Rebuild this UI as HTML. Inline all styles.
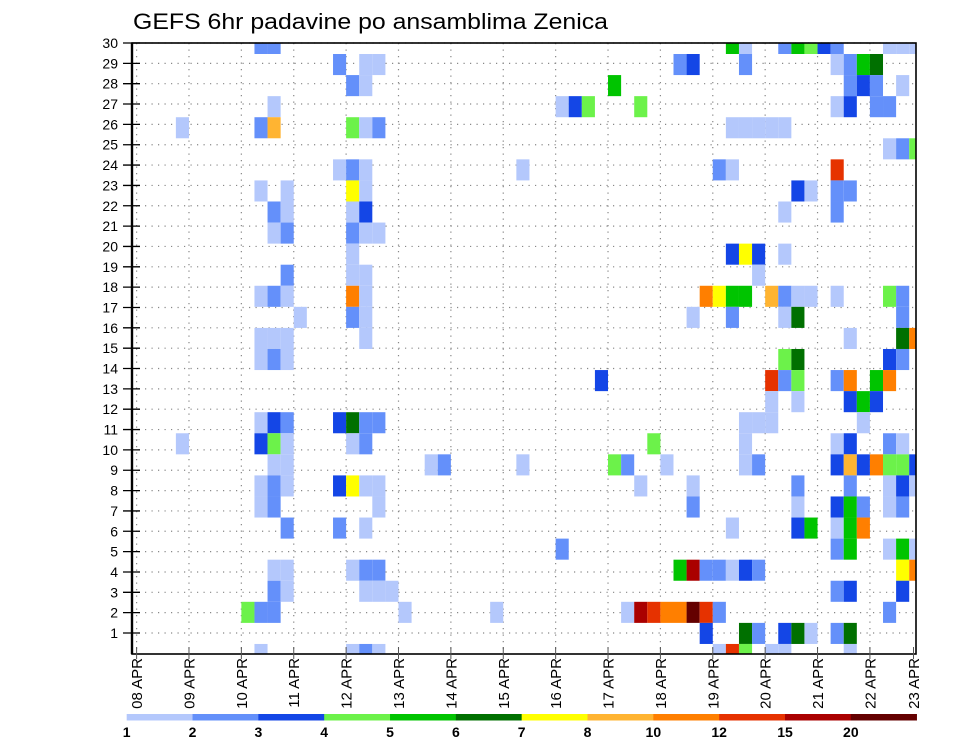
<!DOCTYPE html>
<html><head><meta charset="utf-8"><style>
html,body{margin:0;padding:0;background:#fff;}
svg{display:block;font-family:"Liberation Sans",sans-serif;}
</style></head><body>
<svg id="chart" width="960" height="742" viewBox="0 0 960 742" xmlns="http://www.w3.org/2000/svg">
<text x="133" y="29" font-size="22" textLength="475" lengthAdjust="spacingAndGlyphs" fill="#000">GEFS 6hr padavine po ansamblima Zenica</text>
<g id="grid"></g>
<g id="cells"></g>
<g id="axes"></g>
<g id="legend"></g>
</svg>
<script>
// ---- data ----
const dayLabels = ["08 APR","09 APR","10 APR","11 APR","12 APR","13 APR","14 APR","15 APR","16 APR","17 APR","18 APR","19 APR","20 APR","21 APR","22 APR","23 APR"];
const memberTicks = [1,2,3,4,5,6,7,8,9,10,11,12,13,14,15,16,17,18,19,20,21,22,23,24,25,26,27,28,29,30];
const legendLabels = ["1","2","3","4","5","6","7","8","10","12","15","20"];
const levelColors = ["#b4c8fc","#6490fa","#1446e6","#6cf24a","#00c400","#007000","#ffff00","#ffb432","#ff7f00","#e63200","#aa0000","#640000"];
// rowCells[band] = [ [6hr step index, color level 1..12], ... ]  band 0 = top row
const rowCells = [
 [[9,2],[10,2],[45,5],[46,1],[49,2],[50,5],[51,4],[52,3],[53,2],[57,1],[58,1],[59,1]],
 [[15,2],[17,1],[18,1],[41,2],[42,3],[46,2],[53,1],[54,2],[55,5],[56,6]],
 [[16,2],[17,1],[36,5],[54,2],[55,3],[56,2],[58,1]],
 [[10,1],[32,1],[33,3],[34,4],[38,4],[53,1],[54,3],[56,2],[57,2]],
 [[3,1],[9,2],[10,8],[16,4],[17,1],[18,2],[45,1],[46,1],[47,1],[48,1],[49,1]],
 [[57,1],[58,2],[59,4]],
 [[15,1],[16,2],[17,1],[29,1],[44,2],[45,1],[53,10]],
 [[9,1],[11,1],[16,7],[17,1],[50,3],[51,1],[53,2],[54,2]],
 [[10,2],[11,1],[16,1],[17,3],[49,1],[53,2]],
 [[10,1],[11,2],[16,2],[17,1],[18,1]],
 [[16,1],[45,3],[46,7],[47,3],[49,1]],
 [[11,2],[16,1],[17,1],[47,1]],
 [[9,1],[10,2],[11,1],[16,9],[17,1],[43,9],[44,7],[45,5],[46,5],[48,8],[49,2],[50,1],[51,1],[53,1],[57,4],[58,2]],
 [[12,1],[16,2],[17,1],[42,1],[45,2],[49,1],[50,6],[58,2]],
 [[9,1],[10,1],[11,1],[17,1],[54,1],[58,6],[59,9]],
 [[9,1],[10,2],[11,1],[49,4],[50,6],[57,3],[58,2]],
 [[35,3],[48,10],[49,2],[50,4],[53,2],[54,9],[56,5],[57,9]],
 [[48,1],[50,1],[54,3],[55,5],[56,3]],
 [[9,1],[10,3],[11,2],[15,3],[16,6],[17,2],[18,2],[46,1],[47,1],[48,1],[55,1]],
 [[3,1],[9,3],[10,4],[11,1],[16,1],[17,2],[39,4],[46,1],[53,1],[54,3],[57,2],[58,1]],
 [[10,1],[11,1],[22,1],[23,2],[29,1],[36,4],[37,2],[40,1],[46,1],[47,2],[53,3],[54,8],[55,3],[56,9],[57,4],[58,4],[59,3]],
 [[9,1],[10,2],[11,1],[15,3],[16,7],[17,1],[18,1],[38,1],[42,1],[50,2],[54,2],[57,1],[58,3],[59,1]],
 [[9,1],[10,2],[18,1],[42,2],[50,1],[53,3],[54,5],[55,2],[57,1],[58,2]],
 [[11,2],[15,2],[17,1],[45,1],[50,3],[51,5],[53,1],[54,5],[55,9]],
 [[32,2],[53,2],[54,5],[57,1],[58,5],[59,1]],
 [[10,1],[11,1],[16,1],[17,2],[18,2],[41,5],[42,11],[43,2],[44,2],[45,1],[46,3],[47,2],[58,7],[59,9]],
 [[10,2],[11,1],[17,1],[18,1],[19,1],[53,2],[54,3],[58,3]],
 [[8,4],[9,2],[10,2],[20,1],[27,1],[37,1],[38,11],[39,10],[40,9],[41,9],[42,12],[43,10],[44,2],[57,2]],
 [[43,3],[46,6],[47,2],[49,3],[50,6],[51,1],[53,2],[54,6]],
 [[9,1],[16,1],[17,2],[18,1],[44,1],[45,10],[46,4],[48,1],[49,1],[54,1]]
];
// ---- scales ----
const PL=132, PR=916, PT=43, PB=654;
const NS="http://www.w3.org/2000/svg";
function xDay(d){return 136.6 + d*52.38;}
function xStep(k){return 136.6 + k*13.095;}
function yTick(m){return 43 + (30-m)*20.345;}
function yBand(b){return 32.93 + b*21.07;}
function mk(tag,attrs,parent){const e=document.createElementNS(NS,tag);for(const a in attrs)e.setAttribute(a,attrs[a]);parent.appendChild(e);return e;}

const grid=document.getElementById('grid');
memberTicks.forEach(m=>{
  const l=mk('line',{x1:PL,x2:PR,y1:yTick(m),y2:yTick(m),stroke:'#888','stroke-width':1.2,'stroke-dasharray':'1.2 5.3'},grid);
  
  
});
dayLabels.forEach((d,i)=>{
  const x=xDay(i); if(x>PR) return;
  const l=mk('line',{x1:x,x2:x,y1:PT,y2:PB,stroke:'#888','stroke-width':1.2,'stroke-dasharray':'1.2 5.3'},grid);
  
  
});

const cg=document.getElementById('cells');
rowCells.forEach((row,b)=>{
  row.forEach(c=>{
    const x0=xStep(c[0]), x1=Math.min(xStep(c[0]+1),PR);
    const y0=Math.max(yBand(b),PT), y1=Math.min(yBand(b+1),PB);
    const r=mk('rect',{x:x0,y:y0,width:x1-x0,height:y1-y0,fill:levelColors[c[1]-1]},cg);
    
    
  });
});

const ax=document.getElementById('axes');
const fr=mk('rect',{x:PL,y:PT,width:PR-PL,height:PB-PT,fill:'none',stroke:'#000','stroke-width':1.6},ax);


mk('line',{x1:PL,x2:PL,y1:PT,y2:PB,stroke:'#000','stroke-width':2.4},ax);
memberTicks.forEach(m=>{
  const y=yTick(m);
  mk('line',{x1:123,x2:140,y1:y,y2:y,stroke:'#000','stroke-width':1.3},ax);
  const t=mk('text',{x:118,y:y+5,'font-size':14,'text-anchor':'end',fill:'#000'},ax);
  t.textContent=m;
  
  
});
dayLabels.forEach((d,i)=>{
  let x=xDay(i); if(x>PR) x=913.5;
  mk('line',{x1:x,x2:x,y1:PB-7,y2:PB+5,stroke:'#555','stroke-width':1},ax);
  const t=mk('text',{x:0,y:0,'font-size':15,'text-anchor':'end',fill:'#000',transform:'translate('+(x+5.5)+',658) rotate(-90)'},ax);
  t.textContent=d;
  
  
});

const lg=document.getElementById('legend');
const LX=126.7, LW=65.83;
levelColors.forEach((c,i)=>{
  const r=mk('rect',{x:LX+i*LW,y:714,width:LW+0.3,height:6.5,fill:c},lg);
  
  
});
legendLabels.forEach((s,i)=>{
  const t=mk('text',{x:LX+i*LW,y:737,'font-size':14,'font-weight':'bold','text-anchor':'middle',fill:'#000'},lg);
  t.textContent=s;
  
  
});
</script>
</body></html>
